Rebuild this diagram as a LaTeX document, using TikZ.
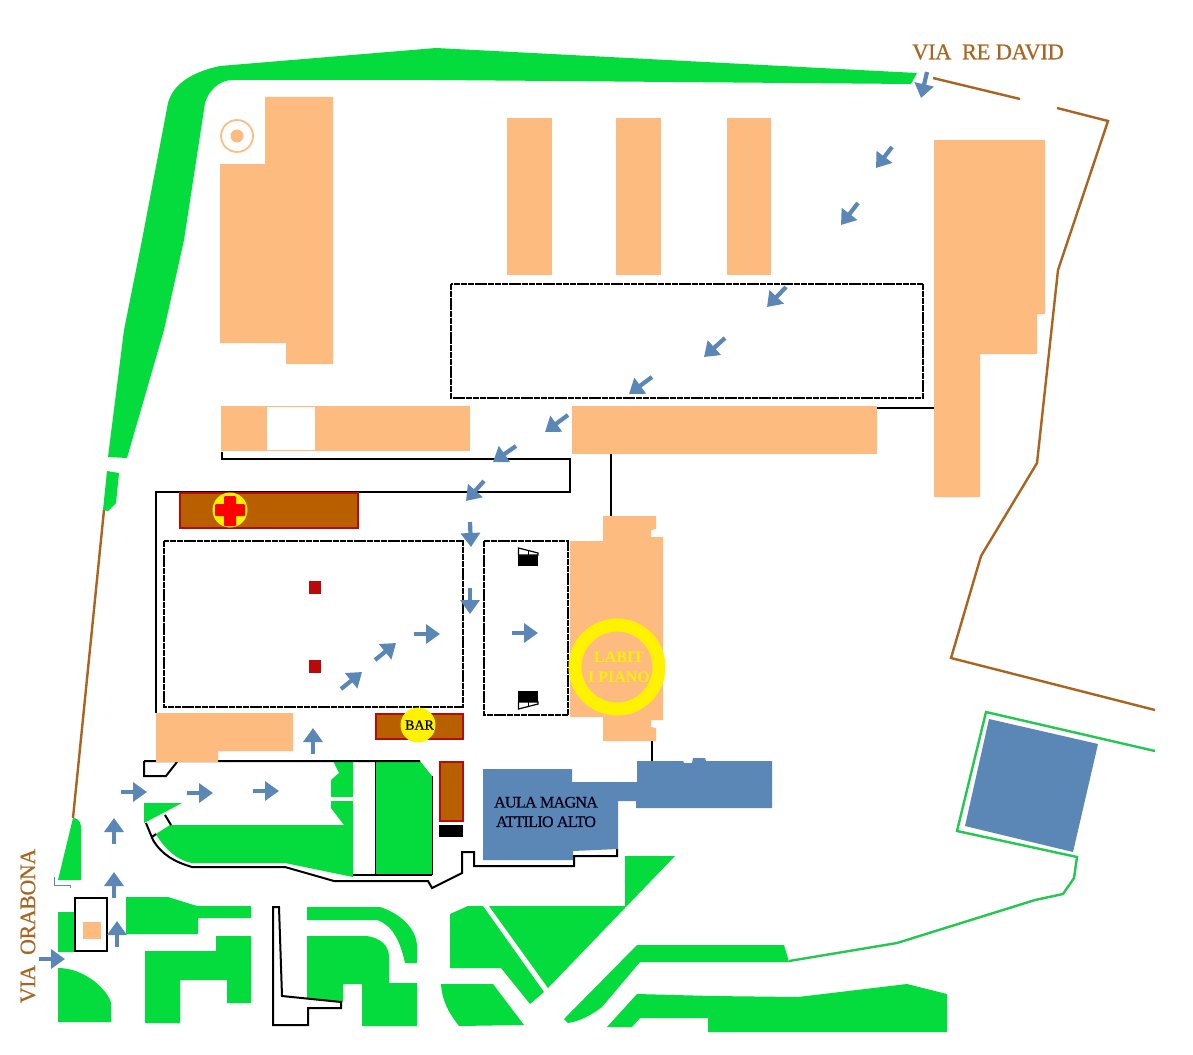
\documentclass[tikz,border=0pt]{standalone}
\usepackage{fontspec}
\setmainfont{Liberation Serif}
\newfontfamily\heavy[FakeBold=0.5]{Liberation Serif}
\usetikzlibrary{arrows.meta}
\definecolor{grn}{HTML}{03DC3C}
\definecolor{org}{HTML}{FDBB7F}
\definecolor{blu}{HTML}{5B87B7}
\definecolor{brn}{HTML}{B85F00}
\definecolor{drd}{HTML}{B80A0A}
\definecolor{via}{HTML}{A9651F}
\definecolor{gln}{HTML}{22C84F}
\tikzset{
  g/.style={fill=grn,draw=none},
  o/.style={fill=org,draw=none},
  b/.style={fill=blu,draw=none},
  blk/.style={draw=black,line width=2pt,fill=none},
  dsh/.style={draw=black,line width=2pt,dash pattern=on 6pt off 0.8pt},
  brd/.style={draw=via,line width=2.4pt,fill=none},
  hut/.style={fill=brn,draw=drd,line width=2pt},
  ar/.style={draw=blu,line width=4.2pt,-{Triangle[width=19pt,length=14pt]}},
}
\newcommand{\arr}[2]{\draw[ar] (#1) -- (#2);}
\begin{document}
\begin{tikzpicture}[x=1pt,y=-1pt]
\useasboundingbox (0,0) rectangle (1193,1054);
\fill[white] (0,0) rectangle (1193,1054);
% north-west green belt
\fill[g] (108,457) -- (124,330) -- (142,240) -- (168,103)
  .. controls (173,84) and (192,72) .. (220,66) -- (436,48) -- (917,73) -- (911,84)
  -- (436,80) -- (233,80) .. controls (218,80) and (208,92) .. (205,103)
  -- (184,240) -- (164,330) -- (127,458) -- cycle;
\fill[g] (107,471) -- (119,473) -- (116,503) -- (108,511) -- (103,510) -- cycle;
\draw[brd] (104,510) -- (73,818);
\fill[g] (73,818) .. controls (76,818) and (80,820) .. (81,826) -- (81,880) -- (58,880) -- cycle;
\draw[blu,line width=1pt] (54,877) -- (54,885) -- (70,885) -- (70,888);
% entrance
\fill[g] (58,912) rectangle (76,952);
\draw[blk] (75,898) rectangle (107,951);
\fill[o] (83,922) rectangle (101,939);
% south-west green blocks
\fill[g] (58,968) .. controls (85,968) and (108,990) .. (111,1003) -- (111,1022) -- (58,1022) -- cycle;
\fill[g] (126,897) -- (168,897) -- (197,906) -- (251,906) -- (251,918) -- (198,918) -- (198,934) -- (126,934) -- cycle;
\fill[g] (145,951) -- (216,951) -- (216,936) -- (251,936) -- (251,1003) -- (227,1003) -- (227,980) -- (180,980) -- (180,1023) -- (145,1023) -- cycle;
\fill[g] (307,907) -- (380,907) .. controls (402,914) and (417,930) .. (417,947) -- (417,963) -- (405,963) .. controls (400,940) and (392,925) .. (377,920) -- (307,920) -- cycle;
\fill[g] (307,936) -- (367,936) .. controls (380,938) and (389,945) .. (389,957) -- (389,983) -- (417,983) -- (417,1026) -- (362,1026) -- (362,984) -- (343,984) -- (343,1002) -- (307,998) -- cycle;
\draw[blk] (273,907) -- (279,907) -- (282,996) -- (341,1002) -- (341,1008) -- (308,1008) -- (308,1025) -- (273,1025) -- cycle;
% central green
\fill[g] (144,803) -- (182,803) -- (144,823) -- cycle;
\fill[g] (156,834) -- (170,825) -- (344,825) -- (331,808) -- (331,780) -- (339,773) -- (333,761) -- (353,761) -- (353,877) -- (285,863) -- (192,863) .. controls (175,860) and (162,845) .. (156,834) -- cycle;
\fill[white] (331,797) rectangle (353,801);
\fill[g] (375,761) -- (420,761) -- (432,776) -- (432,875) -- (375,875) -- cycle;
\draw[black,line width=.8pt] (375,761) -- (375,875) (432,776) -- (432,875);
\draw[blk] (144,761) -- (420,761) (144,761) -- (144,776) -- (166,776) -- (177,762);
\draw[blk] (165,815) -- (171,825) (152,837) -- (156,834);
\draw[blk] (353,875) -- (432,875);
\draw[blk] (146,823) -- (153,840) .. controls (162,855) and (175,862) .. (192,867) -- (285,867) -- (334,881) -- (428,881) -- (432,888) -- (462,873) -- (462,852) -- (474,852) -- (474,866) -- (574,866) -- (574,856) -- (617,856) -- (617,849);
% orange buildings
\fill[o] (265,97) -- (333,97) -- (333,364) -- (286,364) -- (286,343) -- (220,343) -- (220,164) -- (265,164) -- cycle;
\draw[org,line width=1.7pt] (237,136) circle (16);
\fill[org] (237,136) circle (6.5);
\fill[o] (507,118) rectangle (552,275);
\fill[o] (616,118) rectangle (661,275);
\fill[o] (727,118) rectangle (771,275);
\fill[o] (934,140) -- (1045,140) -- (1045,314) -- (1037,314) -- (1037,354) -- (980,354) -- (980,497) -- (934,497) -- cycle;
\fill[o] (221,406) rectangle (470,451);
\fill[white] (267,407) rectangle (315,450);
\fill[o] (572,406) rectangle (877,454);
\fill[o] (156,713) -- (293,713) -- (293,751) -- (218,751) -- (218,762) -- (156,762) -- cycle;
\fill[o] (603,516) -- (656,516) -- (656,529) -- (651,530) -- (651,537) -- (663,537) -- (663,720) -- (651,720) -- (651,727) -- (656,728) -- (656,741) -- (603,741) -- (603,717) -- (570,717) -- (570,541) -- (603,541) -- cycle;
% site lines
\draw[blk] (877,408) -- (934,408);
\draw[blk] (222,452) -- (222,459) -- (570,459) -- (570,492) -- (156,492) -- (156,713);
\draw[blk] (610.5,454) -- (610.5,516);
\draw[blk] (652,741) -- (652,763);
% dashed courts
\draw[dsh] (451,284) rectangle (923,398);
\draw[dsh] (164,541) rectangle (463,707);
\draw[dsh] (484,541) rectangle (568,715);
% huts
\draw[hut] (180,493) rectangle (358,528);
\fill[yellow] (230,510) circle (17.5);
\fill[red,rounded corners=1pt] (224,496) rectangle (236,526);
\fill[red,rounded corners=1pt] (215,504) rectangle (245,516);
\draw[hut] (376,714) rectangle (463,739);
\fill[yellow] (418,725) circle (17.5);
\node[font=\heavy\fontsize{14}{14}\selectfont] (bar) at (419.5,725) {BAR};
\draw[hut] (440,762) rectangle (463,821);
\fill[black] (439,825) rectangle (463,837);
\fill[drd] (309,581) rectangle (321,594);
\fill[drd] (309,660) rectangle (321,673);
% stairs
\fill[black] (518,555) rectangle (538,566);
\draw[black,line width=1.2pt,fill=white] (518.5,555) -- (518.5,548) -- (538,553) -- (538,555) -- cycle;
\draw[black,line width=.7pt] (528,551) -- (528,555);
\fill[black] (518,691) rectangle (538,702);
\draw[black,line width=1.2pt,fill=white] (518.5,702) -- (518.5,709) -- (538,704) -- (538,702) -- cycle;
\draw[black,line width=.7pt] (528,702) -- (528,706);
% blue buildings
\fill[b] (637,761) -- (683,761) -- (684,763) -- (692,763) -- (693,758) -- (705,758) -- (706,761) -- (772,761) -- (772,808) -- (636,808) -- (636,801) -- (618,801) -- (618,849) -- (573,851) -- (573,860) -- (483,860) -- (483,769) -- (572,769) -- (572,782) -- (637,782) -- cycle;
\node[font=\heavy\fontsize{16}{19}\selectfont\addfontfeature{LetterSpace=-4},align=center,inner sep=0pt,text=black!90!blue] (aula) at (546,812) {AULA MAGNA\\[.5pt]ATTILIO ALTO};
\fill[b] (989,719) -- (1098,744) -- (1073,852) -- (965,826) -- cycle;
\draw[gln,line width=2.4pt] (1155,751) -- (986,712) -- (957,831) -- (1077,857) -- (1074,878) -- (1063,894) -- (1035,900) -- (897,943) -- (789,961);
% LABIT
\draw[yellow,line width=13pt] (617,667) circle (42);
\node[font=\bfseries\fontsize{16}{20}\selectfont,align=center,inner sep=0pt,text=yellow] (labit) at (619,667) {LABIT\\I PIANO};
% south green
\fill[g] (450,914) -- (468,906) -- (483,906) -- (544,992) -- (530,1004) -- (501,968) -- (450,968) -- cycle;
\fill[g] (489,906) -- (625,906) -- (625,856) -- (675,856) -- (548,988) -- cycle;
\fill[g] (441,984) -- (493,984) -- (524,1025) -- (459,1026) .. controls (448,1012) and (442,1000) .. (441,984) -- cycle;
\fill[g] (637,945) -- (784,945) -- (789,962) -- (640,962) -- (602,1007) .. controls (590,1016) and (580,1021) .. (568,1023) -- (564,1019) -- cycle;
\fill[g] (637,994) -- (712,996) -- (798,997) -- (907,984) -- (947,994) -- (947,1032) -- (708,1032) -- (708,1018) -- (640,1018) -- (632,1027) -- (607,1027) -- cycle;
% street names
\node[font=\heavy\fontsize{22.5}{22}\selectfont\addfontfeature{LetterSpace=-1.6},text=via,inner sep=0pt] (redavid) at (988,52) {VIA\ \ RE DAVID};
\node[font=\heavy\fontsize{22}{22}\selectfont\addfontfeature{LetterSpace=-2},text=via,inner sep=0pt,rotate=90] (orabona) at (28,926) {VIA\ \ ORABONA};
\draw[brd] (933,78) -- (1020,99);
\draw[brd] (1057,108) -- (1108,121) -- (1058,270) -- (1037,463) -- (981,556) -- (951,658) -- (1155,710);
% arrows
\arr{121,792}{147,792}
\arr{187,793}{213,793}
\arr{253,791}{279,791}
\arr{114,844}{114,818}
\arr{114,898}{114,872}
\arr{117,947}{117,921}
\arr{39,959}{65,959}
\arr{313,754}{313,728}
\arr{470,522}{471,547}
\arr{470,588}{470,614}
\arr{414,634}{440,634}
\arr{375,660}{396,643}
\arr{341,689}{362,672}
\arr{512,633}{538,633}
\arr{484,481}{466,501}
\arr{516,446}{493,462}
\arr{568,415}{545,432}
\arr{652,377}{629,394}
\arr{725,338}{704,357}
\arr{786,287}{767,307}
\arr{858,203}{841,225}
\arr{892,147}{876,168}
\arr{927,72}{921,98}
\end{tikzpicture}
\end{document}
